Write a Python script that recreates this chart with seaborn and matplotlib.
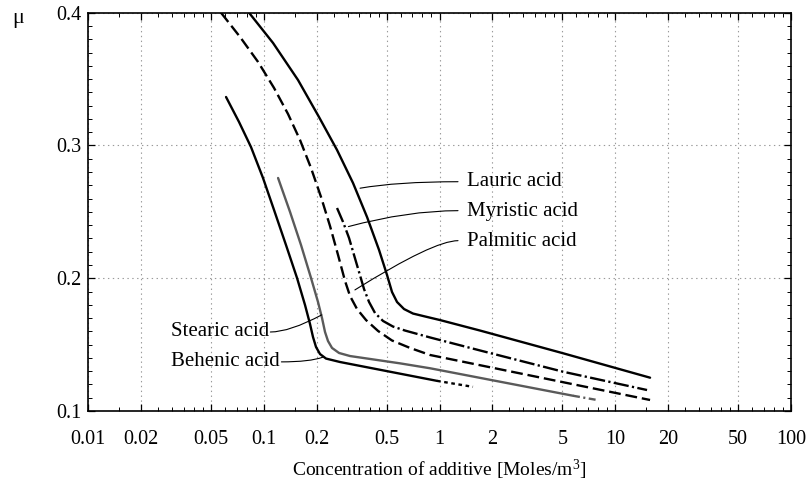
import matplotlib
matplotlib.use("Agg")
import matplotlib.pyplot as plt
from matplotlib.ticker import NullFormatter
import numpy as np
import pandas as pd
import seaborn as sns

# ---------------- data ----------------
lauric_x = [0.0824, 0.1129, 0.1566, 0.2062, 0.2611, 0.3220, 0.3869, 0.4527, 0.5028, 0.5367,
            0.5731, 0.6281, 0.7066, 0.8270, 1.0065, 1.700, 5.043, 15.77]
lauric_y = [0.400, 0.3772, 0.3493, 0.3214, 0.2966, 0.2717, 0.2461, 0.2213, 0.2024, 0.1896,
            0.1821, 0.1768, 0.1734, 0.1712, 0.1685, 0.1606, 0.1435, 0.1251]

myristic_x = [0.2611, 0.2825, 0.3056, 0.3262, 0.3483, 0.3718, 0.3972, 0.4295, 0.4772, 0.5437,
              0.6364, 0.8829, 1.700, 5.043, 15.16]
myristic_y = [0.2529, 0.2424, 0.2303, 0.2175, 0.2047, 0.1919, 0.1821, 0.1738, 0.1678, 0.1636,
              0.1606, 0.1554, 0.1456, 0.1296, 0.1158]

palmitic_x = [0.0571, 0.0733, 0.0928, 0.1144, 0.1374, 0.1608, 0.1857, 0.2117, 0.2382, 0.2646,
              0.2900, 0.3096, 0.3393, 0.3818, 0.4468, 0.5367, 0.6795, 0.8829, 15.77]
palmitic_y = [0.400, 0.3817, 0.3629, 0.3433, 0.3237, 0.3041, 0.2830, 0.2612, 0.2393, 0.2175,
              0.1979, 0.1866, 0.1768, 0.1685, 0.1603, 0.1531, 0.1475, 0.1422, 0.1083]

stearic_x = [0.1206, 0.1411, 0.1629, 0.1857, 0.2035, 0.2145, 0.2231, 0.2320, 0.2445, 0.2681,
             0.3096, 0.4024, 0.5957, 0.8829, 5.748]
stearic_y = [0.2755, 0.2499, 0.2250, 0.2002, 0.1821, 0.1700, 0.1595, 0.1527, 0.1475, 0.1437,
             0.1414, 0.1392, 0.1359, 0.1322, 0.1115]
stearic_tail_x = [5.748, 7.873]
stearic_tail_y = [0.1115, 0.1083]

behenic_x = [0.0610, 0.0723, 0.0846, 0.0990, 0.1144, 0.1338, 0.1546, 0.1717, 0.1833, 0.1906,
             0.1983, 0.2089, 0.2260, 0.2716, 0.968]
behenic_y = [0.3365, 0.3177, 0.2988, 0.2755, 0.2514, 0.2250, 0.2002, 0.1798, 0.1655, 0.1557,
             0.1482, 0.1429, 0.1395, 0.1369, 0.1227]
behenic_tail_x = [0.968, 1.55]
behenic_tail_y = [0.1227, 0.1182]

x_ticks = [0.01, 0.02, 0.05, 0.1, 0.2, 0.5, 1, 2, 5, 10, 20, 50, 100]
x_tick_labels = ["0.01", "0.02", "0.05", "0.1", "0.2", "0.5", "1", "2", "5", "10", "20", "50", "100"]
y_ticks = [0.1, 0.2, 0.3, 0.4]
y_tick_labels = ["0.1", "0.2", "0.3", "0.4"]

labels = ["Lauric acid", "Myristic acid", "Palmitic acid", "Stearic acid", "Behenic acid"]
label_pos = [(1.434, 0.2725), (1.434, 0.2500), (1.434, 0.2275), (0.1075, 0.1600), (0.1235, 0.1375)]
leader_start = [(1.274, 0.2727), (1.274, 0.2509), (1.274, 0.2283), (0.109, 0.1595), (0.126, 0.1370)]
leader_end = [(0.353, 0.2678), (0.303, 0.2389), (0.330, 0.1912), (0.2137, 0.1724), (0.2164, 0.1405)]
leader_angle = [10, 15, 32, 28, 20]

# ---------------- style ----------------
sns.set_theme(style="ticks")
plt.rcParams["font.family"] = ["Liberation Serif", "DejaVu Serif"]
plt.rcParams["mathtext.fontset"] = "custom"
plt.rcParams["mathtext.rm"] = "Liberation Serif"
plt.rcParams["mathtext.it"] = "Liberation Serif:italic"
plt.rcParams["lines.scale_dashes"] = False

FS_TICK = 14.5
FS_TEXT = 15
FS_XLABEL = 14
fig = plt.figure(figsize=(8.09, 4.86), dpi=100)
ax = fig.add_axes([0.1088, 0.1543, 0.8690, 0.8196])
ax.set_xscale("log")

LW = 1.7
def draw(xs, ys, color="black", ls="-"):
    sns.lineplot(x=xs, y=ys, ax=ax, color=color, linewidth=LW, linestyle=ls,
                 sort=False, estimator=None, legend=False)

draw(lauric_x, lauric_y)
draw(myristic_x, myristic_y, ls=(0, (11, 2.4, 1.6, 2.4)))
draw(palmitic_x, palmitic_y, ls=(0, (8.5, 3.5)))
draw(stearic_x, stearic_y, color="#5a5a5a")
draw(stearic_tail_x, stearic_tail_y, color="#5a5a5a", ls=(0, (5, 2.5, 1.5, 2.5)))
draw(behenic_x, behenic_y)
draw(behenic_tail_x, behenic_tail_y, ls=(0, (2.6, 2.6)))

# labels with leader lines
for i, lab in enumerate(labels):
    ha = "left" if i < 3 else "right"
    ax.text(label_pos[i][0], label_pos[i][1], lab, ha=ha, va="center", fontsize=FS_TEXT, color="black")
    ax.annotate("", xy=leader_end[i], xytext=leader_start[i],
                arrowprops=dict(arrowstyle="-", color="black", lw=0.8, shrinkA=0, shrinkB=0,
                                connectionstyle=f"angle3,angleA=0,angleB={leader_angle[i]}"))

# axes
ax.set_xlim(0.01, 100)
ax.set_ylim(0.1, 0.4)
ax.set_xticks(x_ticks, labels=x_tick_labels)
minor = [m * d for d in [0.01, 0.1, 1, 10] for m in [1.5, 2.5, 3, 3.5, 4, 4.5, 6, 7, 8, 9]]
ax.set_xticks(minor, minor=True)
ax.xaxis.set_minor_formatter(NullFormatter())
ax.set_yticks(y_ticks, labels=y_tick_labels)
ax.set_yticks(np.round(np.arange(0.1, 0.401, 0.01), 2), minor=True)

ax.tick_params(which="both", direction="in", top=True, right=True, colors="black", labelsize=FS_TICK)
ax.tick_params(which="major", length=5, width=0.9)
ax.tick_params(which="minor", length=3, width=0.7)
ax.tick_params(axis="x", which="major", pad=14)
ax.tick_params(axis="y", which="major", pad=5)

for s in ax.spines.values():
    s.set_color("black")
    s.set_linewidth(1.2)
    s.set_visible(True)

ax.grid(True, which="major", color="#9a9a9a", linestyle=(0, (1, 2.5)), linewidth=0.8)
ax.set_axisbelow(True)

ax.set_xlabel("Concentration of additive [Moles/m$^3$]", fontsize=FS_XLABEL, color="black", labelpad=6)
ax.set_ylabel("")
fig.text(18 / 809, 1 - 18 / 486, "μ", fontsize=16, ha="center", va="center", color="black")

fig.savefig("out.png", dpi=100)
